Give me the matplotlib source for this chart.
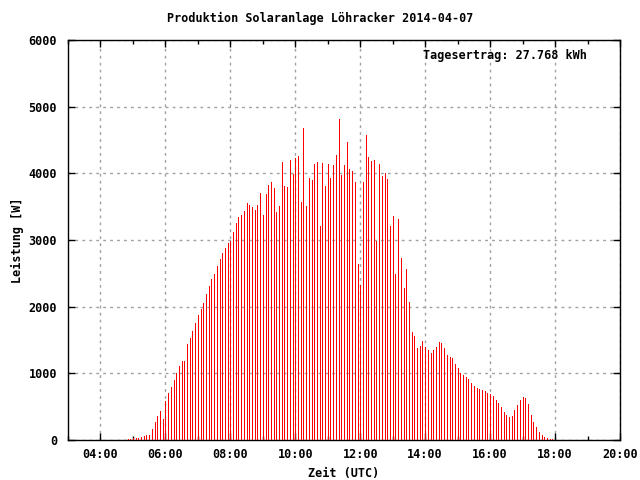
import matplotlib
matplotlib.use('Agg')
import matplotlib.pyplot as plt
from matplotlib.ticker import MultipleLocator, FuncFormatter

# =========================================================
# Daten: 5-Minuten-Werte (Leistung in W), 04:50 .. 17:55 UTC
# =========================================================
times = [
    '04:50', '04:55', '05:00', '05:05', '05:10', '05:15', '05:20', '05:25', '05:30', '05:35', '05:40', '05:45',
    '05:50', '05:55', '06:00', '06:05', '06:10', '06:15', '06:20', '06:25', '06:30', '06:35', '06:40', '06:45',
    '06:50', '06:55', '07:00', '07:05', '07:10', '07:15', '07:20', '07:25', '07:30', '07:35', '07:40', '07:45',
    '07:50', '07:55', '08:00', '08:05', '08:10', '08:15', '08:20', '08:25', '08:30', '08:35', '08:40', '08:45',
    '08:50', '08:55', '09:00', '09:05', '09:10', '09:15', '09:20', '09:25', '09:30', '09:35', '09:40', '09:45',
    '09:50', '09:55', '10:00', '10:05', '10:10', '10:15', '10:20', '10:25', '10:30', '10:35', '10:40', '10:45',
    '10:50', '10:55', '11:00', '11:05', '11:10', '11:15', '11:20', '11:25', '11:30', '11:35', '11:40', '11:45',
    '11:50', '11:55', '12:00', '12:05', '12:10', '12:15', '12:20', '12:25', '12:30', '12:35', '12:40', '12:45',
    '12:50', '12:55', '13:00', '13:05', '13:10', '13:15', '13:20', '13:25', '13:30', '13:35', '13:40', '13:45',
    '13:50', '13:55', '14:00', '14:05', '14:10', '14:15', '14:20', '14:25', '14:30', '14:35', '14:40', '14:45',
    '14:50', '14:55', '15:00', '15:05', '15:10', '15:15', '15:20', '15:25', '15:30', '15:35', '15:40', '15:45',
    '15:50', '15:55', '16:00', '16:05', '16:10', '16:15', '16:20', '16:25', '16:30', '16:35', '16:40', '16:45',
    '16:50', '16:55', '17:00', '17:05', '17:10', '17:15', '17:20', '17:25', '17:30', '17:35', '17:40', '17:45',
    '17:50', '17:55',
]

power = [
    15, 15, 30, 30, 30, 45, 60, 70, 75, 165, 270, 360,
    435, 315, 585, 705, 795, 900, 1005, 1110, 1185, 1185, 1440, 1530,
    1635, 1760, 1870, 1965, 2055, 2190, 2310, 2415, 2490, 2610, 2715, 2805,
    2880, 2955, 2985, 3120, 3255, 3345, 3375, 3435, 3555, 3525, 3495, 3450,
    3525, 3705, 3375, 3690, 3825, 3870, 3780, 3420, 3510, 4170, 3810, 3795,
    4200, 3990, 4230, 4260, 3570, 4680, 3510, 3930, 3900, 4140, 4170, 3210,
    4155, 3810, 4140, 3930, 4125, 4275, 4815, 3975, 4125, 4470, 4065, 4035,
    3870, 2640, 2325, 3870, 4575, 4245, 4185, 4200, 2985, 4140, 3960, 4005,
    3915, 3210, 3360, 2490, 3315, 2730, 2280, 2565, 2070, 1620, 1560, 1380,
    1410, 1485, 1395, 1350, 1305, 1350, 1395, 1470, 1455, 1380, 1275, 1245,
    1230, 1140, 1080, 1005, 975, 945, 915, 855, 810, 780, 765, 750,
    735, 705, 690, 660, 600, 555, 495, 420, 375, 345, 360, 450,
    525, 600, 645, 630, 540, 375, 270, 195, 120, 75, 45, 30,
    15, 15,
]

title = 'Produktion Solaranlage Löhracker 2014-04-07'
ertrag_text = 'Tagesertrag: 27.768 kWh'

# Zeit in Stunden umrechnen
hours = [int(t[:2]) + int(t[3:]) / 60 for t in times]

# =========================================================
# Plot (gnuplot-Stil)
# =========================================================
font = {'family': 'DejaVu Sans Mono', 'weight': 'bold', 'size': 8.5}
plt.rcParams['font.family'] = 'DejaVu Sans Mono'
plt.rcParams['font.weight'] = 'bold'
plt.rcParams['font.size'] = 8.5

fig = plt.figure(figsize=(6.4, 4.8), dpi=100)
ax = fig.add_axes([68 / 640, 40 / 480, 552 / 640, 400 / 480])

ax.vlines(hours, 0, power, colors='#ff0000', linewidth=0.5,
          antialiased=False, zorder=3)

ax.set_xlim(3, 20)
ax.set_ylim(0, 6000)
ax.xaxis.set_major_locator(MultipleLocator(2))
ax.xaxis.set_minor_locator(MultipleLocator(1))
ax.yaxis.set_major_locator(MultipleLocator(1000))
ax.xaxis.set_major_formatter(FuncFormatter(lambda v, p: f'{int(v):02d}:00'))

ax.tick_params(which='both', direction='in', top=True, right=True, color='black')
ax.tick_params(which='major', length=5, width=1, pad=6)
ax.tick_params(which='minor', length=3, width=1)
ax.tick_params(axis='y', pad=8)

ax.grid(True, which='major', color='#a0a0a0', linestyle=(0, (2, 3)), linewidth=1, zorder=1)
for s in ax.spines.values():
    s.set_linewidth(1)
    s.set_color('black')

ax.set_xlabel('Zeit (UTC)', fontdict=font, labelpad=4)
ax.set_ylabel('Leistung [W]', fontdict=font, labelpad=3)
fig.text(0.5, 1 - 18 / 480, title, ha='center', va='center', fontdict=font)
# Tagesertrag oben rechts (Pixelkoordinaten)
fig.text(587 / 640, 1 - 56 / 480, ertrag_text, ha='right', va='center', fontdict=font)

plt.savefig('out.png', dpi=100)
